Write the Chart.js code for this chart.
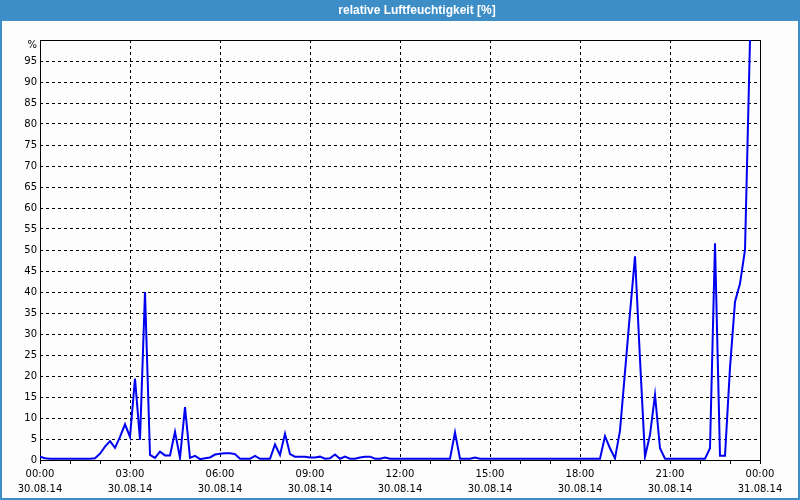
<!DOCTYPE html>
<html><head><meta charset="utf-8">
<script src="https://cdn.jsdelivr.net/npm/chart.js@4.4.1/dist/chart.umd.min.js"></script>
<style>html,body{margin:0;padding:0;background:#fff;}#wrap{width:800px;height:500px;}</style>
</head><body><div id="wrap"><canvas id="c" width="800" height="500"></canvas></div>
<script>
const chartTitle = 'relative Luftfeuchtigkeit [%]';
const sampleStepMinutes = 10;
const humidity = [
  0.8,0.4,0.3,0.3,0.3,0.3,0.3,0.3,0.3,0.3,0.3,0.4,
  1.5,3.2,4.5,2.9,5.5,8.5,5.5,19.4,4.8,40,
  1.2,0.5,2.0,1.1,1.1,6.7,0.5,12.6,0.5,1.0,
  0.2,0.4,0.6,1.3,1.5,1.6,1.6,1.4,0.3,0.3,
  0.3,1.0,0.3,0.3,0.3,3.7,1.2,6.3,1.4,0.8,
  0.8,0.8,0.6,0.6,0.8,0.3,0.4,1.3,0.3,0.8,
  0.3,0.3,0.6,0.8,0.8,0.3,0.3,0.6,
  0.3,0.3,0.3,0.3,0.3,0.3,0.3,0.3,0.3,0.3,0.3,0.3,0.3,
  6.6,0.3,0.3,0.3,0.6,
  0.3,0.3,0.3,0.3,0.3,0.3,0.3,0.3,0.3,0.3,0.3,0.3,0.3,0.3,0.3,0.3,0.3,0.3,0.3,0.3,0.3,0.3,0.3,0.3,0.3,
  5.6,2.8,0.4,7.0,21,35,48.5,24,0.8,6,15.5,2.8,
  0.3,0.3,0.3,0.3,0.3,0.3,0.3,0.3,0.3,
  2.8,51.6,1.0,1.0,22,37.7,42,50,100
];
const xTickTimes = ['00:00','03:00','06:00','09:00','12:00','15:00','18:00','21:00','00:00'];
const xTickDates = ['30.08.14','30.08.14','30.08.14','30.08.14','30.08.14','30.08.14','30.08.14','30.08.14','31.08.14'];
const yUnitLabel = '%';

const points = humidity.map((v, i) => ({x: i * sampleStepMinutes, y: v}));

const framePlugin = {
  id: 'frame',
  beforeDraw(chart) {
    const ctx = chart.ctx;
    ctx.save();
    ctx.fillStyle = '#fcfdfc';
    ctx.fillRect(0, 0, chart.width, chart.height);
    ctx.fillStyle = '#3d8ec6';
    ctx.fillRect(0, 0, chart.width, 21);
    ctx.fillStyle = '#ffffff';
    ctx.font = 'bold 12px "Liberation Sans", Arial, sans-serif';
    ctx.textAlign = 'center';
    ctx.textBaseline = 'middle';
    ctx.fillText(chartTitle, 417, 11);
    ctx.restore();
  },
  beforeDatasetsDraw(chart) {
    const ctx = chart.ctx, a = chart.chartArea;
    ctx.save();
    ctx.strokeStyle = '#000';
    ctx.lineWidth = 1;
    ctx.setLineDash([]);
    ctx.strokeRect(Math.round(a.left) + 0.5, Math.round(a.top) + 0.5, Math.round(a.right - a.left), Math.round(a.bottom - a.top));
    // unit label at top of the value axis
    ctx.fillStyle = '#000';
    ctx.font = '10px "DejaVu Sans", sans-serif';
    ctx.textAlign = 'right';
    ctx.textBaseline = 'middle';
    ctx.fillText(yUnitLabel, a.left - 3, a.top + 5);
    ctx.restore();
  },
  afterDraw(chart) {
    const ctx = chart.ctx;
    ctx.save();
    ctx.strokeStyle = '#3d8ec6';
    ctx.lineWidth = 2;
    ctx.strokeRect(1, 1, chart.width - 2, chart.height - 2);
    ctx.restore();
  }
};

new Chart(document.getElementById('c'), {
  type: 'line',
  data: {
    datasets: [{
      data: points,
      borderColor: '#0000f0',
      borderWidth: 2,
      pointRadius: 0,
      tension: 0,
      fill: false
    }]
  },
  options: {
    responsive: false,
    animation: false,
    devicePixelRatio: 1,
    layout: {padding: {top: 40, right: 40, left: 0, bottom: 0}},
    plugins: {legend: {display: false}, title: {display: false}, tooltip: {enabled: false}},
    scales: {
      x: {
        type: 'linear',
        min: 0, max: 1440,
        afterFit(s) { s.height = 40; },
        border: {display: false, dash: [3, 3]},
        grid: {
          color: (c) => (c.tick && c.tick.value % 180 === 0 && c.tick.value !== 0 && c.tick.value !== 1440) ? '#000' : 'rgba(0,0,0,0)',
          tickColor: '#000',
          tickLength: 4,
          lineWidth: 1
        },
        ticks: {
          stepSize: 60,
          autoSkip: false,
          maxRotation: 0,
          padding: 3,
          color: '#000',
          font: {family: '"DejaVu Sans", sans-serif', size: 10, lineHeight: 1.5},
          callback: (v) => (v % 180 === 0) ? [xTickTimes[v / 180], xTickDates[v / 180]] : ''
        }
      },
      y: {
        min: 0, max: 100,
        afterFit(s) { s.width = 40; },
        border: {display: false, dash: [3, 3]},
        grid: {
          drawTicks: false,
          color: (c) => (c.tick && (c.tick.value === 0 || c.tick.value === 100)) ? 'rgba(0,0,0,0)' : '#000',
          lineWidth: 1
        },
        ticks: {
          stepSize: 5,
          padding: 3,
          color: '#000',
          font: {family: '"DejaVu Sans", sans-serif', size: 10},
          callback: (v) => v === 100 ? '' : String(v)
        }
      }
    }
  },
  plugins: [framePlugin]
});
</script>
</body></html>
